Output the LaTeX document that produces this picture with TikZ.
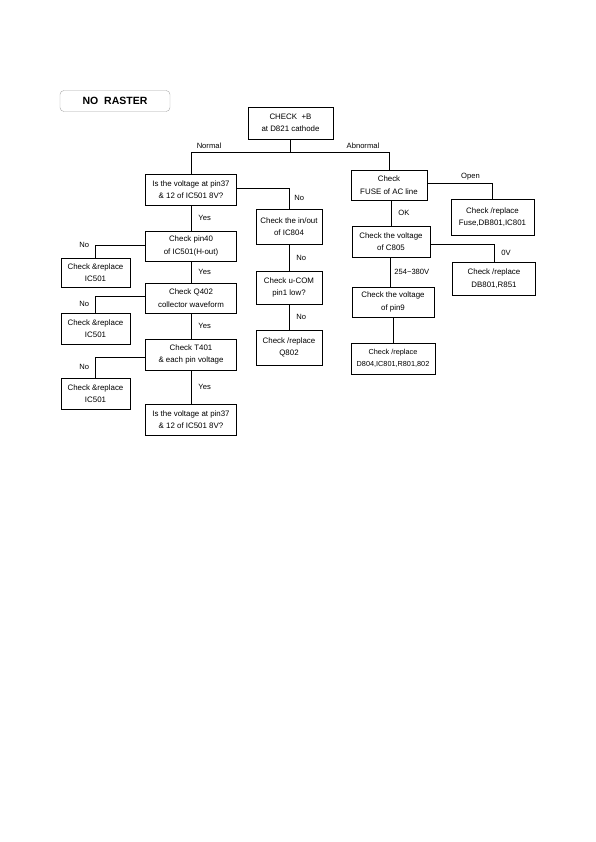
\documentclass[tikz,border=0pt]{standalone}
\usepackage{fontspec}
\setmainfont{Liberation Sans}
\begin{document}
\begin{tikzpicture}[x=1pt,y=-1pt,
        box/.style={draw, line width=0.8pt, align=center, inner sep=0.5pt,
            font=\fontsize{7.9}{12.5}\selectfont},
        lbl/.style={font=\fontsize{7.6}{8}\selectfont, inner sep=1pt},
        wire/.style={line width=0.8pt}]
        \useasboundingbox (0,0) rectangle (595,842);
        % Title
        \node[draw=gray!70, rounded corners=4pt, minimum width=110pt, minimum height=21pt,
            font=\bfseries\fontsize{10.5}{11}\selectfont] (title) at (115,101) {NO\ \ RASTER};
        % Boxes
        \node[box, minimum width=85pt, minimum height=32pt] (start) at (290.5,123) {CHECK\ \ +B\\at D821 cathode};
        % main column
        \node[box, minimum width=91pt, minimum height=31pt] (qa) at (191,189.5) {Is the voltage at pin37\\\& 12 of IC501 8V?};
        \node[box, minimum width=91pt, minimum height=30pt] (pin40) at (191,246) {Check pin40\\of IC501(H-out)};
        \node[box, minimum width=91pt, minimum height=30pt] (q402) at (191,298) {Check Q402\\collector waveform};
        \node[box, minimum width=91pt, minimum height=31pt] (t401) at (191,354.5) {Check T401\\\& each pin voltage};
        \node[box, minimum width=91pt, minimum height=31pt] (qb) at (191,419.5) {Is the voltage at pin37\\\& 12 of IC501 8V?};
        % left column
        \node[box, minimum width=69pt, minimum height=29pt] (repa) at (95.5,272.5) {Check \&replace\\IC501};
        \node[box, minimum width=69pt, minimum height=31pt] (repb) at (95.5,328.5) {Check \&replace\\IC501};
        \node[box, minimum width=69pt, minimum height=31pt] (repc) at (95.5,393.5) {Check \&replace\\IC501};
        % middle column
        \node[box, minimum width=66pt, minimum height=35pt] (inout) at (289,226.5) {Check the in/out\\of IC804};
        \node[box, minimum width=66pt, minimum height=33pt] (ucom) at (289,287.5) {Check u-COM\\pin1 low?};
        \node[box, minimum width=66pt, minimum height=35pt] (q802) at (289,347.5) {Check /replace\\Q802};
        % right column
        \node[box, minimum width=76pt, minimum height=30pt] (fuse) at (389,185) {Check\\FUSE of AC line};
        \node[box, minimum width=78pt, minimum height=31pt] (c805) at (391,241.5) {Check the voltage\\of C805};
        \node[box, minimum width=82pt, minimum height=30pt] (pin9) at (393,302) {Check the voltage\\of pin9};
        \node[box, minimum width=84pt, minimum height=31pt, font=\fontsize{7.3}{12.5}\selectfont] (d804) at (393,358.5) {Check /replace\\D804,IC801,R801,802};
        \node[box, minimum width=83pt, minimum height=36pt] (fusebox) at (492.5,217) {Check /replace\\Fuse,DB801,IC801};
        \node[box, minimum width=83pt, minimum height=33pt] (db801) at (494,278.5) {Check /replace\\DB801,R851};
        % Connectors
        \coordinate (split) at (start.south |- 0,152);
        \draw[wire] (start.south) -- (split);
        \draw[wire] (split) -| (qa.north) node[lbl, pos=0.5, above=2pt, xshift=18pt] {Normal};
        \draw[wire] (split) -| (fuse.north) node[lbl, pos=0.5, above=2pt, xshift=-26pt] {Abnormal};
        \draw[wire] (qa.east |- 0,188) -| (inout.north) node[lbl, pos=0.75, right=4pt] {No};
        \draw[wire] (qa) -- (pin40) node[lbl, midway, right=6pt] {Yes};
        \draw[wire] (pin40) -- (q402) node[lbl, midway, right=6pt] {Yes};
        \draw[wire] (q402) -- (t401) node[lbl, midway, right=6pt] {Yes};
        \draw[wire] (t401) -- (qb) node[lbl, midway, right=6pt] {Yes};
        \draw[wire] (pin40.west |- 0,245) -| (repa.north) node[lbl, pos=0.5, left=5pt] {No};
        \draw[wire] (q402.west |- 0,296) -| (repb.north) node[lbl, pos=0.75, left=5pt] {No};
        \draw[wire] (t401.west |- 0,357) -| (repc.north) node[lbl, pos=0.75, left=5pt] {No};
        \draw[wire] (inout) -- (ucom) node[lbl, midway, right=6pt] {No};
        \draw[wire] (ucom) -- (q802) node[lbl, midway, right=6pt] {No};
        \draw[wire] (fuse.east |- 0,183) -| (fusebox.north) node[lbl, pos=0.5, above=2pt, xshift=-22pt] {Open};
        \draw[wire] (fuse.south -| c805.north) -- (c805.north) node[lbl, midway, right=6pt] {OK};
        \draw[wire] (c805.east |- 0,244) -| (db801.north) node[lbl, pos=0.75, right=6pt] {0V};
        \draw[wire] (c805.south -| 390,0) -- (pin9.north -| 390,0) node[lbl, midway, right=3pt] {254\textasciitilde380V};
        \draw[wire] (pin9) -- (d804);
    \end{tikzpicture}
\end{document}
